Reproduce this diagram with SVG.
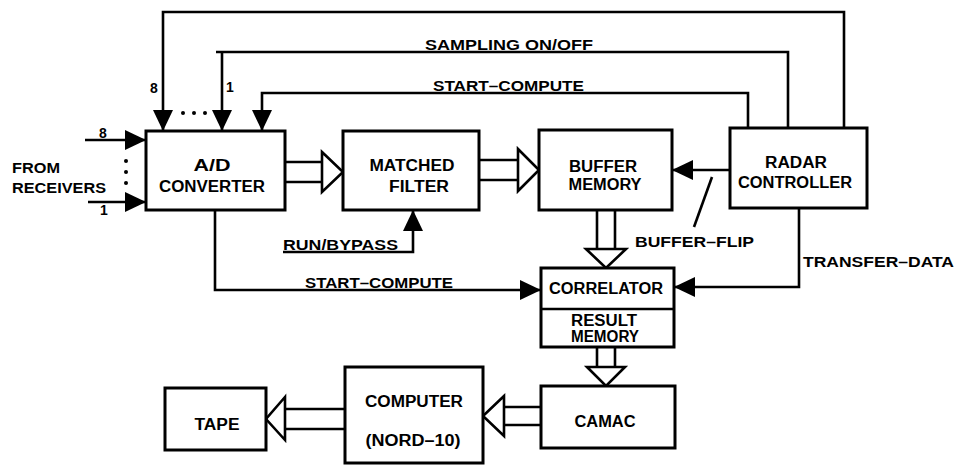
<svg xmlns="http://www.w3.org/2000/svg" width="956" height="465" viewBox="0 0 956 465">
<style>
  .box{fill:#fff;stroke:#000;stroke-width:3}
  .ln{fill:none;stroke:#000;stroke-width:2.6}
  .bus{fill:#fff;stroke:#000;stroke-width:2.6}
  .t{font-family:"Liberation Sans",Arial,sans-serif;font-weight:bold;font-size:16px;fill:#000;text-anchor:middle}
  .s{font-family:"Liberation Sans",Arial,sans-serif;font-weight:bold;font-size:14px;fill:#000;text-anchor:start}
  .dot{fill:#000}
</style>
<defs>
  <marker id="arr" markerUnits="userSpaceOnUse" markerWidth="22" markerHeight="20" refX="21" refY="10" orient="auto">
    <path d="M0,0 L21,10 L0,20 z" fill="#000"/>
  </marker>
</defs>
<rect width="956" height="465" fill="#fff"/>

<g id="connectors">
  <path class="ln" d="M844,128 V12 H163 V131" marker-end="url(#arr)"/>
  <path class="ln" d="M788,128 V52 H216 M222,52 V131" marker-end="url(#arr)"/>
  <path class="ln" d="M748,128 V93 H262 V131" marker-end="url(#arr)"/>
  <path class="ln" d="M85,140 H146" marker-end="url(#arr)"/>
  <path class="ln" d="M88,202 H146" marker-end="url(#arr)"/>
  <path class="ln" d="M730,170 H672" marker-end="url(#arr)"/>
  <path class="ln" d="M694,227 L712,177"/>
  <path class="ln" d="M799,208 V287 H674" marker-end="url(#arr)"/>
  <path class="ln" d="M215,210 V290 H541" marker-end="url(#arr)"/>
  <path class="ln" d="M283,252 H413 V210" marker-end="url(#arr)"/>
  <!-- buses -->
  <path class="ln" d="M285,162 H322 M285,182 H322"/>
  <polygon class="bus" points="322,152 343,172 322,192"/>
  <path class="ln" d="M479,160 H518 M479,180 H518"/>
  <polygon class="bus" points="518,149 539,170 518,191"/>
  <path class="ln" d="M597,210 V249 M615,210 V249"/>
  <polygon class="bus" points="586,249 606,268 626,249"/>
  <path class="ln" d="M597,347 V367 M615,347 V367"/>
  <polygon class="bus" points="587,367 606,386 625,367"/>
  <path class="ln" d="M541,407 H504 M541,425 H504"/>
  <polygon class="bus" points="504,396 483,416 504,436"/>
  <path class="ln" d="M345,409 H285 M345,429 H285"/>
  <polygon class="bus" points="285,397 266,419 285,440"/>
  <!-- dots -->
  <circle class="dot" cx="183" cy="113" r="2"/>
  <circle class="dot" cx="194" cy="113" r="2"/>
  <circle class="dot" cx="205" cy="113" r="2"/>
  <circle class="dot" cx="126" cy="161" r="2"/>
  <circle class="dot" cx="126" cy="172" r="2"/>
  <circle class="dot" cx="126" cy="183" r="2"/>
  <!-- labels -->
  <text class="s" x="150" y="93">8</text>
  <text class="s" x="226" y="92">1</text>
  <text class="s" x="99" y="138">8</text>
  <text class="s" x="100" y="215">1</text>
  <text class="s" x="425" y="50" textLength="168" lengthAdjust="spacingAndGlyphs">SAMPLING ON/OFF</text>
  <text class="s" x="433" y="91" textLength="151" lengthAdjust="spacingAndGlyphs">START–COMPUTE</text>
  <text class="s" x="283" y="250" textLength="115" lengthAdjust="spacingAndGlyphs">RUN/BYPASS</text>
  <text class="s" x="305" y="288" textLength="148" lengthAdjust="spacingAndGlyphs">START–COMPUTE</text>
  <text class="s" x="635" y="247" textLength="119" lengthAdjust="spacingAndGlyphs">BUFFER–FLIP</text>
  <text class="s" x="803" y="267" textLength="151" lengthAdjust="spacingAndGlyphs">TRANSFER–DATA</text>
  <text class="s" x="12" y="173" textLength="48" lengthAdjust="spacingAndGlyphs">FROM</text>
  <text class="s" x="12" y="193" textLength="94" lengthAdjust="spacingAndGlyphs">RECEIVERS</text>
</g>

<g id="ad">
  <rect class="box" x="146" y="131" width="139" height="79"/>
  <text class="t" x="212" y="171" textLength="37" lengthAdjust="spacingAndGlyphs">A/D</text>
  <text class="t" x="212" y="192" textLength="106" lengthAdjust="spacingAndGlyphs">CONVERTER</text>
</g>
<g id="mf">
  <rect class="box" x="343" y="131" width="136" height="79"/>
  <text class="t" x="412" y="171" textLength="85" lengthAdjust="spacingAndGlyphs">MATCHED</text>
  <text class="t" x="419" y="192" textLength="60" lengthAdjust="spacingAndGlyphs">FILTER</text>
</g>
<g id="bm">
  <rect class="box" x="539" y="130" width="133" height="80"/>
  <text class="t" x="603" y="172" textLength="68" lengthAdjust="spacingAndGlyphs">BUFFER</text>
  <text class="t" x="605" y="190" textLength="73" lengthAdjust="spacingAndGlyphs">MEMORY</text>
</g>
<g id="rc">
  <rect class="box" x="730" y="128" width="137" height="80"/>
  <text class="t" x="796" y="168" textLength="62" lengthAdjust="spacingAndGlyphs">RADAR</text>
  <text class="t" x="795" y="188" textLength="114" lengthAdjust="spacingAndGlyphs">CONTROLLER</text>
</g>
<g id="corr">
  <rect class="box" x="541" y="268" width="133" height="79"/>
  <line class="ln" x1="541" y1="309" x2="674" y2="309"/>
  <text class="t" x="606" y="294" textLength="114" lengthAdjust="spacingAndGlyphs">CORRELATOR</text>
  <text class="t" x="604" y="326" font-size="11" textLength="66" lengthAdjust="spacingAndGlyphs">RESULT</text>
  <text class="t" x="605" y="342" font-size="11" textLength="68" lengthAdjust="spacingAndGlyphs">MEMORY</text>
</g>
<g id="camac">
  <rect class="box" x="541" y="386" width="134" height="62"/>
  <text class="t" x="605" y="427" textLength="61" lengthAdjust="spacingAndGlyphs">CAMAC</text>
</g>
<g id="computer">
  <rect class="box" x="345" y="367" width="138" height="96"/>
  <text class="t" x="414" y="407" textLength="98" lengthAdjust="spacingAndGlyphs">COMPUTER</text>
  <text class="t" x="413" y="446" textLength="95" lengthAdjust="spacingAndGlyphs">(NORD–10)</text>
</g>
<g id="tape">
  <rect class="box" x="165" y="388" width="101" height="62"/>
  <text class="t" x="217" y="430" textLength="45" lengthAdjust="spacingAndGlyphs">TAPE</text>
</g>
</svg>
